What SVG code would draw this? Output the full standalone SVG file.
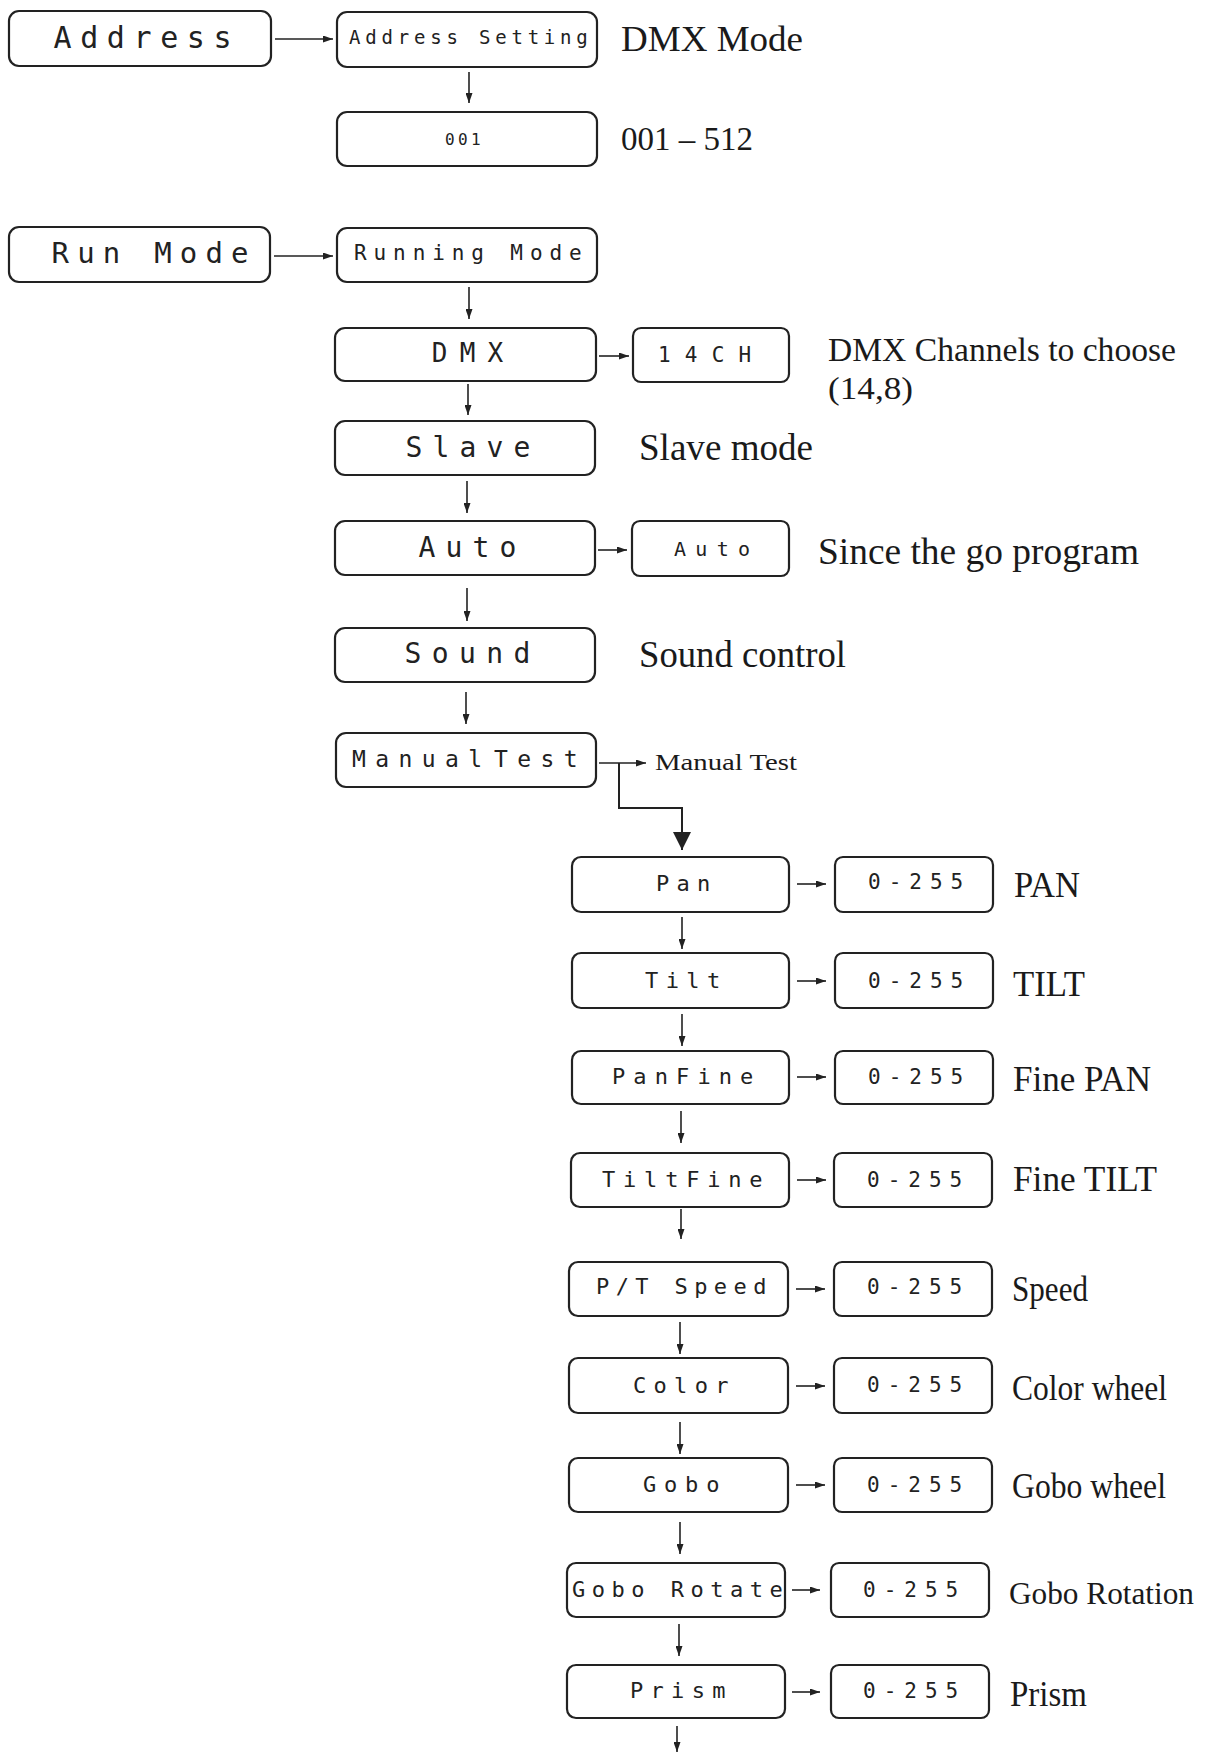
<svg xmlns="http://www.w3.org/2000/svg" width="1205" height="1753" viewBox="0 0 1205 1753">
<style>
.box{fill:#fff;stroke:#222;stroke-width:2.2}
.m{font-family:"DejaVu Sans Mono","Liberation Mono",monospace;fill:#222}
.s{font-family:"Liberation Serif","Times New Roman",serif;fill:#1a1a1a}
.c{fill:none;stroke:#222;stroke-width:1.6}
.c2{fill:none;stroke:#222;stroke-width:2}
</style>
<defs>
<marker id="a" markerUnits="userSpaceOnUse" markerWidth="10" markerHeight="7" refX="10" refY="3.5" orient="auto"><path d="M0,0 L10,3.5 L0,7 z" fill="#222"/></marker>
<marker id="b" markerUnits="userSpaceOnUse" markerWidth="18" markerHeight="18" refX="18" refY="9" orient="auto"><path d="M0,0 L18,9 L0,18 z" fill="#222"/></marker>
</defs>
<rect width="1205" height="1753" fill="#fff"/>

<g id="connectors">
<line class="c" x1="275" y1="39" x2="333" y2="39" marker-end="url(#a)"/>
<line class="c" x1="469" y1="72" x2="469" y2="103" marker-end="url(#a)"/>
<line class="c" x1="274" y1="256" x2="333" y2="256" marker-end="url(#a)"/>
<line class="c" x1="469" y1="287" x2="469" y2="319" marker-end="url(#a)"/>
<line class="c" x1="599" y1="356" x2="629" y2="356" marker-end="url(#a)"/>
<line class="c" x1="468" y1="384" x2="468" y2="415" marker-end="url(#a)"/>
<line class="c" x1="467" y1="481" x2="467" y2="513" marker-end="url(#a)"/>
<line class="c" x1="598" y1="550" x2="627" y2="550" marker-end="url(#a)"/>
<line class="c" x1="467" y1="588" x2="467" y2="621" marker-end="url(#a)"/>
<line class="c" x1="466" y1="692" x2="466" y2="724" marker-end="url(#a)"/>
<line class="c" x1="599" y1="763" x2="646" y2="763" marker-end="url(#a)"/>
<path class="c2" d="M619,763 V808 H682 V850" marker-end="url(#b)"/>
<line class="c" x1="797" y1="884" x2="826" y2="884" marker-end="url(#a)"/>
<line class="c" x1="682" y1="917" x2="682" y2="949" marker-end="url(#a)"/>
<line class="c" x1="797" y1="981" x2="826" y2="981" marker-end="url(#a)"/>
<line class="c" x1="682" y1="1014" x2="682" y2="1046" marker-end="url(#a)"/>
<line class="c" x1="797" y1="1077" x2="826" y2="1077" marker-end="url(#a)"/>
<line class="c" x1="681" y1="1111" x2="681" y2="1143" marker-end="url(#a)"/>
<line class="c" x1="797" y1="1180" x2="826" y2="1180" marker-end="url(#a)"/>
<line class="c" x1="681" y1="1209" x2="681" y2="1239" marker-end="url(#a)"/>
<line class="c" x1="796" y1="1289" x2="825" y2="1289" marker-end="url(#a)"/>
<line class="c" x1="680" y1="1322" x2="680" y2="1354" marker-end="url(#a)"/>
<line class="c" x1="796" y1="1386" x2="825" y2="1386" marker-end="url(#a)"/>
<line class="c" x1="680" y1="1422" x2="680" y2="1454" marker-end="url(#a)"/>
<line class="c" x1="796" y1="1485" x2="825" y2="1485" marker-end="url(#a)"/>
<line class="c" x1="680" y1="1522" x2="680" y2="1554" marker-end="url(#a)"/>
<line class="c" x1="792" y1="1590" x2="820" y2="1590" marker-end="url(#a)"/>
<line class="c" x1="679" y1="1624" x2="679" y2="1656" marker-end="url(#a)"/>
<line class="c" x1="792" y1="1692" x2="820" y2="1692" marker-end="url(#a)"/>
<line class="c" x1="677" y1="1726" x2="677" y2="1752" marker-end="url(#a)"/>
</g>

<g id="n-address"><rect class="box" x="9" y="11" width="262" height="55" rx="10"/><text class="m" x="53.5" y="48" font-size="30" letter-spacing="8.6">Address</text></g>
<g id="n-address-setting"><rect class="box" x="337" y="12" width="260" height="55" rx="10"/><text class="m" x="349" y="44" font-size="19" letter-spacing="4.8">Address Setting</text></g>
<g id="l-dmx-mode"><text class="s" x="621" y="51" font-size="36" textLength="182" lengthAdjust="spacingAndGlyphs">DMX Mode</text></g>
<g id="n-001"><rect class="box" x="337" y="112" width="260" height="54" rx="10"/><text class="m" x="445" y="145" font-size="16" letter-spacing="3.4">001</text></g>
<g id="l-001-512"><text class="s" x="621" y="150" font-size="33" textLength="132" lengthAdjust="spacingAndGlyphs">001 – 512</text></g>

<g id="n-run-mode"><rect class="box" x="9" y="227" width="261" height="55" rx="10"/><text class="m" x="51.5" y="263" font-size="29" letter-spacing="8.2">Run Mode</text></g>
<g id="n-running-mode"><rect class="box" x="337" y="228" width="260" height="54" rx="10"/><text class="m" x="354" y="260" font-size="21" letter-spacing="6.9">Running Mode</text></g>
<g id="n-dmx"><rect class="box" x="335" y="328" width="261" height="53" rx="10"/><text class="m" x="431.7" y="362" font-size="26" letter-spacing="12.3">DMX</text></g>
<g id="n-14ch"><rect class="box" x="633" y="328" width="156" height="54" rx="8"/><text class="m" x="658" y="362" font-size="21" letter-spacing="14.2">14CH</text></g>
<g id="l-dmx-channels"><text class="s" x="828" y="361" font-size="34" textLength="348" lengthAdjust="spacingAndGlyphs">DMX Channels to choose</text><text class="s" x="828" y="399" font-size="32" textLength="85" lengthAdjust="spacingAndGlyphs">(14,8)</text></g>
<g id="n-slave"><rect class="box" x="335" y="421" width="260" height="54" rx="10"/><text class="m" x="405.6" y="457" font-size="28" letter-spacing="10.1">Slave</text></g>
<g id="l-slave"><text class="s" x="639" y="460" font-size="37" textLength="174" lengthAdjust="spacingAndGlyphs">Slave mode</text></g>
<g id="n-auto"><rect class="box" x="335" y="521" width="260" height="54" rx="10"/><text class="m" x="418.6" y="557" font-size="28" letter-spacing="10.1">Auto</text></g>
<g id="n-auto2"><rect class="box" x="632" y="521" width="157" height="55" rx="8"/><text class="m" x="674" y="556" font-size="20" letter-spacing="9.3">Auto</text></g>
<g id="l-auto"><text class="s" x="818" y="564" font-size="37" textLength="321" lengthAdjust="spacingAndGlyphs">Since the go program</text></g>
<g id="n-sound"><rect class="box" x="335" y="628" width="260" height="54" rx="10"/><text class="m" x="404.6" y="663" font-size="28" letter-spacing="10.4">Sound</text></g>
<g id="l-sound"><text class="s" x="639" y="667" font-size="37" textLength="207" lengthAdjust="spacingAndGlyphs">Sound control</text></g>
<g id="n-manual"><rect class="box" x="336" y="733" width="260" height="54" rx="10"/><text class="m" y="767" font-size="23" letter-spacing="9.4"><tspan x="352">Manual</tspan> <tspan x="494">Test</tspan></text></g>
<g id="l-manual"><text class="s" x="655" y="770" font-size="24" textLength="142" lengthAdjust="spacingAndGlyphs">Manual Test</text></g>

<g id="n-pan"><rect class="box" x="572" y="857" width="217" height="55" rx="9"/><text class="m" x="656" y="891" font-size="22" letter-spacing="7.3">Pan</text></g>
<g id="v-pan"><rect class="box" x="835" y="857" width="158" height="55" rx="8"/><text class="m" x="868" y="889" font-size="21" letter-spacing="8">0-255</text></g>
<g id="l-pan"><text class="s" x="1014" y="897" font-size="36" textLength="66" lengthAdjust="spacingAndGlyphs">PAN</text></g>

<g id="n-tilt"><rect class="box" x="572" y="953" width="217" height="55" rx="9"/><text class="m" x="645" y="988" font-size="22" letter-spacing="7.4">Tilt</text></g>
<g id="v-tilt"><rect class="box" x="835" y="953" width="158" height="55" rx="8"/><text class="m" x="868" y="988" font-size="21" letter-spacing="8">0-255</text></g>
<g id="l-tilt"><text class="s" x="1013" y="996" font-size="36" textLength="72" lengthAdjust="spacingAndGlyphs">TILT</text></g>

<g id="n-panfine"><rect class="box" x="572" y="1051" width="217" height="53" rx="9"/><text class="m" x="612" y="1084" font-size="22" letter-spacing="8.1">PanFine</text></g>
<g id="v-panfine"><rect class="box" x="835" y="1051" width="158" height="53" rx="8"/><text class="m" x="868" y="1084" font-size="21" letter-spacing="8">0-255</text></g>
<g id="l-panfine"><text class="s" x="1013" y="1091" font-size="36" textLength="138" lengthAdjust="spacingAndGlyphs">Fine PAN</text></g>

<g id="n-tiltfine"><rect class="box" x="571" y="1153" width="218" height="54" rx="9"/><text class="m" x="602" y="1187" font-size="22" letter-spacing="7.8">TiltFine</text></g>
<g id="v-tiltfine"><rect class="box" x="834" y="1153" width="158" height="54" rx="8"/><text class="m" x="867" y="1187" font-size="21" letter-spacing="8">0-255</text></g>
<g id="l-tiltfine"><text class="s" x="1013" y="1191" font-size="36" textLength="144" lengthAdjust="spacingAndGlyphs">Fine TILT</text></g>

<g id="n-ptspeed"><rect class="box" x="569" y="1262" width="219" height="54" rx="9"/><text class="m" x="596" y="1294" font-size="22" letter-spacing="6.4">P/T Speed</text></g>
<g id="v-ptspeed"><rect class="box" x="834" y="1262" width="158" height="54" rx="8"/><text class="m" x="867" y="1294" font-size="21" letter-spacing="8">0-255</text></g>
<g id="l-ptspeed"><text class="s" x="1012" y="1301" font-size="36" textLength="76" lengthAdjust="spacingAndGlyphs">Speed</text></g>

<g id="n-color"><rect class="box" x="569" y="1358" width="219" height="55" rx="9"/><text class="m" x="633" y="1393" font-size="22" letter-spacing="7.3">Color</text></g>
<g id="v-color"><rect class="box" x="834" y="1358" width="158" height="55" rx="8"/><text class="m" x="867" y="1392" font-size="21" letter-spacing="8">0-255</text></g>
<g id="l-color"><text class="s" x="1012" y="1400" font-size="36" textLength="155" lengthAdjust="spacingAndGlyphs">Color wheel</text></g>

<g id="n-gobo"><rect class="box" x="569" y="1458" width="219" height="54" rx="9"/><text class="m" x="643" y="1492" font-size="22" letter-spacing="7.8">Gobo</text></g>
<g id="v-gobo"><rect class="box" x="834" y="1458" width="158" height="54" rx="8"/><text class="m" x="867" y="1492" font-size="21" letter-spacing="8">0-255</text></g>
<g id="l-gobo"><text class="s" x="1012" y="1498" font-size="36" textLength="154" lengthAdjust="spacingAndGlyphs">Gobo wheel</text></g>

<g id="n-gobo-rotate"><rect class="box" x="567" y="1563" width="218" height="54" rx="9"/><text class="m" x="572" y="1597" font-size="22" letter-spacing="6.5">Gobo Rotate</text></g>
<g id="v-gobo-rotate"><rect class="box" x="831" y="1563" width="158" height="54" rx="8"/><text class="m" x="863" y="1597" font-size="21" letter-spacing="8">0-255</text></g>
<g id="l-gobo-rotate"><text class="s" x="1009" y="1604" font-size="32" textLength="185" lengthAdjust="spacingAndGlyphs">Gobo Rotation</text></g>

<g id="n-prism"><rect class="box" x="567" y="1665" width="218" height="53" rx="9"/><text class="m" x="630" y="1698" font-size="22" letter-spacing="7.3">Prism</text></g>
<g id="v-prism"><rect class="box" x="831" y="1665" width="158" height="53" rx="8"/><text class="m" x="863" y="1698" font-size="21" letter-spacing="8">0-255</text></g>
<g id="l-prism"><text class="s" x="1010" y="1706" font-size="36" textLength="77" lengthAdjust="spacingAndGlyphs">Prism</text></g>
</svg>
